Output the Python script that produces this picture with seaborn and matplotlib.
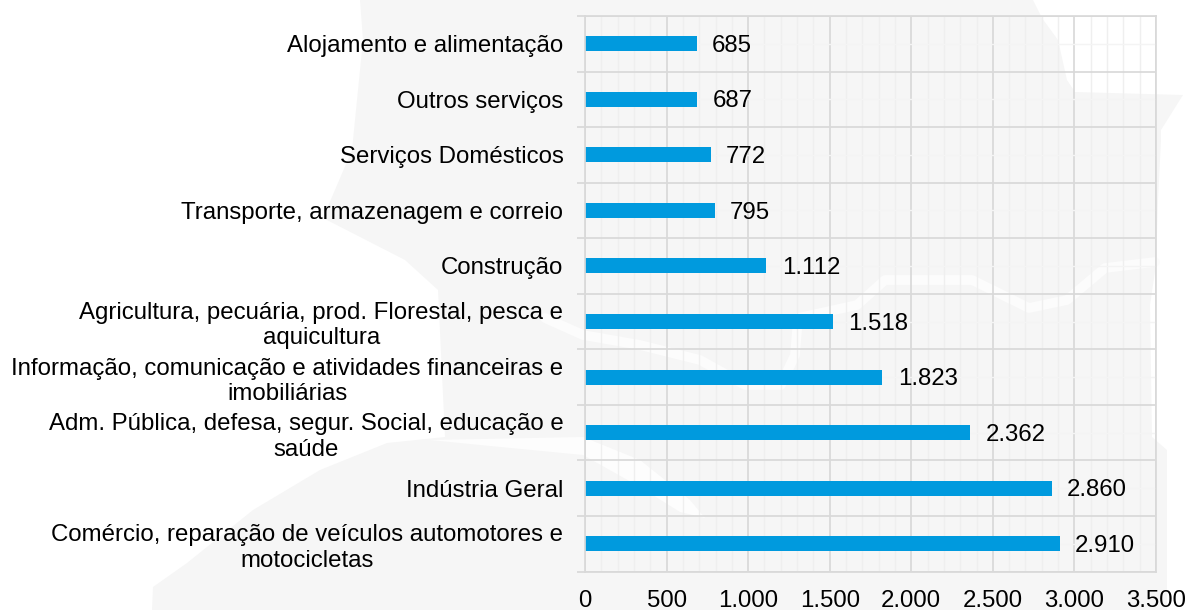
import pandas as pd
import numpy as np
import matplotlib
matplotlib.use('Agg')
import matplotlib.pyplot as plt
import seaborn as sns

categories = [
    'Alojamento e alimentação',
    'Outros serviços',
    'Serviços Domésticos',
    'Transporte, armazenagem e correio',
    'Construção',
    'Agricultura, pecuária, prod. Florestal, pesca e\naquicultura',
    'Informação, comunicação e atividades financeiras e\nimobiliárias',
    'Adm. Pública, defesa, segur. Social, educação e\nsaúde',
    'Indústria Geral',
    'Comércio, reparação de veículos automotores e\nmotocicletas',
]
values = [685, 687, 772, 795, 1112, 1518, 1823, 2362, 2860, 2910]
x_ticks = [0, 500, 1000, 1500, 2000, 2500, 3000, 3500]

W, H = 1189, 610
GRID = '#d9d9d9'
FS = 17.3


def dotted(v):
    return f'{v:,}'.replace(',', '.')


sns.set_theme(style='white')
plt.rcParams['font.family'] = ['Liberation Sans', 'DejaVu Sans']

fig = plt.figure(figsize=(W / 100, H / 100), dpi=100, facecolor='white')

# watermark behind the chart, in pixel coordinates
bg = fig.add_axes([0, 0, 1, 1], zorder=0)
bg.set_xlim(0, W)
bg.set_ylim(H, 0)
bg.axis('off')
shape = [(360, 0), (1033, 0), (1042, 18), (1058, 40), (1067, 80), (1075, 92), (1183, 95),
         (1161, 130), (1161, 140), (1158, 200), (1156, 265), (1150, 305), (1152, 437),
         (1167, 450), (1167, 610), (152, 610), (153, 587), (187, 563), (253, 510),
         (320, 470), (387, 443), (445, 437), (438, 290), (405, 260), (323, 218),
         (352, 150), (363, 40)]
bg.fill(*zip(*shape), color='#f6f6f6', lw=0)
# white streaks across the watermark
bg.fill([430, 583, 640, 690, 705, 680, 640, 583, 480], [440, 437, 460, 500, 518, 512, 487, 455, 445],
        color='#fdfdfd', lw=0)
band_x = [545, 583, 640, 700, 745, 781, 795, 798, 857, 885, 972, 1029, 1067, 1105, 1155]
band_y = [318, 335, 345, 360, 385, 385, 355, 318, 305, 280, 280, 308, 300, 268, 262]
bg.plot(band_x, band_y, color='#fcfcfc', lw=7, solid_capstyle='round', solid_joinstyle='round')

ax = fig.add_axes([585 / W, 1 - 571.5 / H, (1156 - 585) / W, (571.5 - 16) / H], zorder=1)
ax.patch.set_alpha(0)

df = pd.DataFrame({'setor': categories, 'valor': values})
sns.barplot(data=df, x='valor', y='setor', orient='h', color='#009ADE', saturation=1,
            width=0.27, linewidth=0, ax=ax)

ax.set_xlim(0, 3500)
ax.set_ylim(len(categories) - 0.5, -0.5)
ax.set_xlabel('')
ax.set_ylabel('')

# grid
ax.set_axisbelow(True)
ax.set_xticks(x_ticks)
ax.set_xticklabels([dotted(v) for v in x_ticks])
ax.set_xticks(np.arange(0, 3501, 100), minor=True)
ax.set_yticks(np.arange(-0.5, len(categories)), minor=True)
ax.grid(True, axis='x', which='major', color=GRID, lw=1.25)
ax.grid(True, axis='x', which='minor', color='#efefef', lw=1.0)
ax.grid(True, axis='y', which='minor', color=GRID, lw=1.25)
ax.grid(True, axis='y', which='major', color='#f4f4f4', lw=1.0)

for spine in ax.spines.values():
    spine.set_visible(True)
    spine.set_color(GRID)
    spine.set_linewidth(1.25)

ax.tick_params(axis='x', which='both', length=0, pad=13.5, labelsize=FS, labelcolor='black')
ax.tick_params(axis='y', which='major', length=0, pad=15.5, labelsize=FS, labelcolor='black')
ax.tick_params(axis='y', which='minor', left=True, length=5.8, width=1.25, color=GRID)
for lab in ax.get_yticklabels():
    lab.set_multialignment('center')
    lab.set_linespacing(1.2)

labels = ax.bar_label(ax.containers[0], labels=[dotted(v) for v in values], padding=11,
                      fontsize=FS, color='black')
for t in labels:
    t.xyann = (t.xyann[0], -1.5)

fig.savefig('out.png', dpi=100)
